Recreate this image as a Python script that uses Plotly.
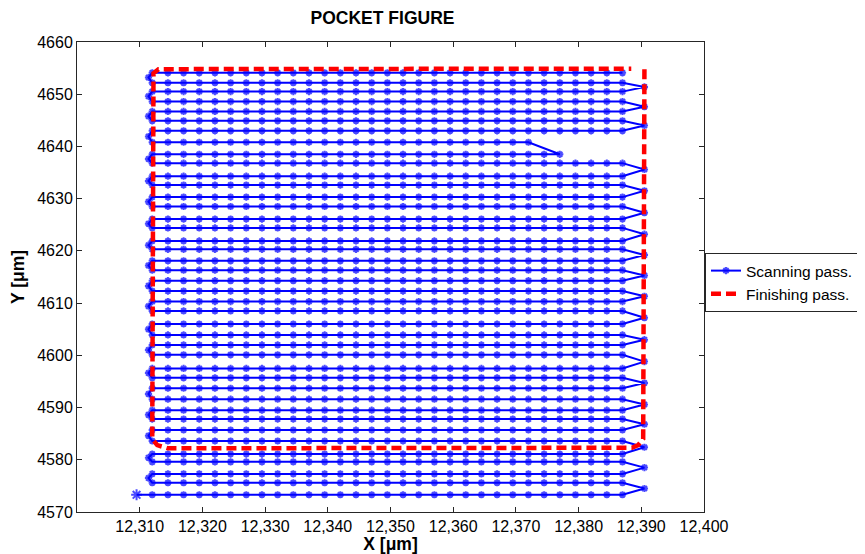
import plotly.graph_objects as go

# ---------------- data ----------------
# marker x positions along a scan row [um]
MARKER_X = [12309.5, 12312.0, 12314.5, 12317.0, 12319.5, 12322.0, 12324.5, 12327.0,
            12329.5, 12332.0, 12334.5, 12337.0, 12339.5, 12342.0, 12344.5, 12347.0,
            12349.5, 12352.0, 12354.5, 12357.0, 12359.5, 12362.0, 12364.5, 12367.0,
            12369.5, 12372.0, 12374.5, 12377.0, 12379.5, 12382.0, 12384.5, 12387.0]

# y level of each scan row, bottom to top [um]
ROW_Y = [4573.3, 4575.6, 4577.3, 4579.6, 4581.1, 4583.6, 4585.7, 4587.8, 4589.5, 4591.6,
         4593.7, 4595.7, 4597.5, 4600.1, 4602.0, 4603.9, 4606.0, 4608.5, 4610.3, 4612.3,
         4614.3, 4616.3, 4618.1, 4620.3, 4621.9, 4624.4, 4626.1, 4628.5, 4630.3, 4632.6,
         4634.3, 4636.8, 4638.5, 4640.8, 4643.0, 4644.9, 4646.7, 4648.6, 4650.5, 4652.2,
         4654.1]

# x extent of each row
ROW_X_LO = [12309.5, 12312.0, 12312.0, 12312.0, 12312.0, 12312.0, 12312.0, 12312.0, 12312.0, 12312.0,
            12312.0, 12312.0, 12312.0, 12312.0, 12312.0, 12312.0, 12312.0, 12312.0, 12312.0, 12312.0,
            12312.0, 12312.0, 12312.0, 12312.0, 12312.0, 12312.0, 12312.0, 12312.0, 12312.0, 12312.0,
            12312.0, 12312.0, 12312.0, 12312.0, 12312.0, 12312.0, 12312.0, 12312.0, 12312.0, 12312.0,
            12312.0]
ROW_X_HI = [12387.0, 12387.0, 12387.0, 12387.0, 12387.0, 12387.0, 12387.0, 12387.0, 12387.0, 12387.0,
            12387.0, 12387.0, 12387.0, 12387.0, 12387.0, 12387.0, 12387.0, 12387.0, 12387.0, 12387.0,
            12387.0, 12387.0, 12387.0, 12387.0, 12387.0, 12387.0, 12387.0, 12387.0, 12387.0, 12387.0,
            12387.0, 12387.0, 12377.0, 12372.0, 12387.0, 12387.0, 12387.0, 12387.0, 12387.0, 12387.0,
            12387.0]

# turn-around points between row i and row i+1 (None = direct link)
TURN_X = [12390.5, 12311.4, 12390.5, 12311.4, 12390.5, 12311.4, 12390.5, 12311.4, 12390.5, 12311.4,
          12390.5, 12311.4, 12390.5, 12311.4, 12390.5, 12311.4, 12390.5, 12311.4, 12390.5, 12311.4,
          12390.5, 12311.4, 12390.5, 12311.4, 12390.5, 12311.4, 12390.5, 12311.4, 12390.5, 12311.4,
          12390.5, 12311.4, None, 12311.4, 12390.5, 12311.4, 12390.5, 12311.4, 12390.5, 12311.4]
TURN_Y = [4574.5, 4576.5, 4578.5, 4580.4, 4582.4, 4584.6, 4586.8, 4588.6, 4590.6, 4592.6,
          4594.7, 4596.6, 4598.8, 4601.0, 4603.0, 4605.0, 4607.2, 4609.4, 4611.3, 4613.3,
          4615.3, 4617.2, 4619.2, 4621.1, 4623.2, 4625.2, 4627.3, 4629.4, 4631.5, 4633.4,
          4635.6, 4637.6, None, 4641.9, 4644.0, 4645.8, 4647.6, 4649.6, 4651.4, 4653.2]

# finishing pass contour
FINISH_X = [12390.5, 12390.3, 12389.5, 12388.5, 12314.5, 12312.8, 12312.0, 12312.2, 12313.0, 12388.4]
FINISH_Y = [4654.8, 4584.0, 4582.8, 4582.3, 4582.2, 4582.8, 4584.0, 4654.0, 4654.8, 4654.9]

X_TICKS = [12310, 12320, 12330, 12340, 12350, 12360, 12370, 12380, 12390, 12400]
X_TICK_TEXT = ["12,310", "12,320", "12,330", "12,340", "12,350",
               "12,360", "12,370", "12,380", "12,390", "12,400"]
Y_TICKS = [4570, 4580, 4590, 4600, 4610, 4620, 4630, 4640, 4650, 4660]

# ---------------- build scanning path ----------------
scan_x, scan_y = [], []
for i, yv in enumerate(ROW_Y):
    xs = [x for x in MARKER_X if ROW_X_LO[i] <= x <= ROW_X_HI[i]]
    if i % 2 == 1:
        xs = xs[::-1]
    scan_x.extend(xs)
    scan_y.extend([yv] * len(xs))
    if i < len(TURN_X) and TURN_X[i] is not None:
        scan_x.append(TURN_X[i])
        scan_y.append(TURN_Y[i])

marker_sizes = [6] * len(scan_x)
marker_sizes[0] = 9

FONT = "Arial, 'Liberation Sans', Helvetica, sans-serif"

fig = go.Figure()
fig.add_trace(go.Scatter(
    x=scan_x, y=scan_y, mode="lines+markers", name="Scanning pass.",
    line=dict(color="#0000ff", width=2),
    marker=dict(symbol="asterisk", size=marker_sizes, color="#0000ff",
                line=dict(color="#0000ff", width=2)),
))
fig.add_trace(go.Scatter(
    x=FINISH_X, y=FINISH_Y, mode="lines", name="Finishing pass.",
    line=dict(color="#ff0000", width=4.5, dash="10px,5px"),
))

axis_common = dict(
    showgrid=False, zeroline=False, showline=True, mirror="allticks",
    linecolor="#262626", linewidth=1, ticks="inside", ticklen=5,
    tickcolor="#262626", tickfont=dict(family=FONT, size=16, color="#000000"),
)
fig.update_xaxes(range=[12300, 12400], tickvals=X_TICKS, ticktext=X_TICK_TEXT,
                 title=dict(text="X [μm]", standoff=3,
                            font=dict(family=FONT, size=17.5, color="#000000", weight="bold")),
                 **axis_common)
fig.update_yaxes(range=[4570, 4660], tickvals=Y_TICKS,
                 title=dict(text="Y [μm]", standoff=11,
                            font=dict(family=FONT, size=17.5, color="#000000", weight="bold")),
                 **axis_common)

# the page body has an 8px margin, so the figure is sized/offset to compensate
fig.update_layout(
    width=857, height=546,
    margin=dict(l=69, r=161, t=34, b=42, autoexpand=False),
    paper_bgcolor="white", plot_bgcolor="white",
    title=dict(text="POCKET FIGURE", x=(382.5 - 8) / 857, xanchor="center",
               y=1 - 10 / 546, yanchor="middle",
               font=dict(family=FONT, size=17.5, color="#000000", weight="bold")),
    legend=dict(x=1.0016, y=0.551, xanchor="left", yanchor="top",
                bordercolor="#262626", borderwidth=1, bgcolor="white",
                font=dict(family=FONT, size=15.5, color="#000000"), tracegroupgap=0),
    showlegend=True,
)

fig.write_html("out.html")
